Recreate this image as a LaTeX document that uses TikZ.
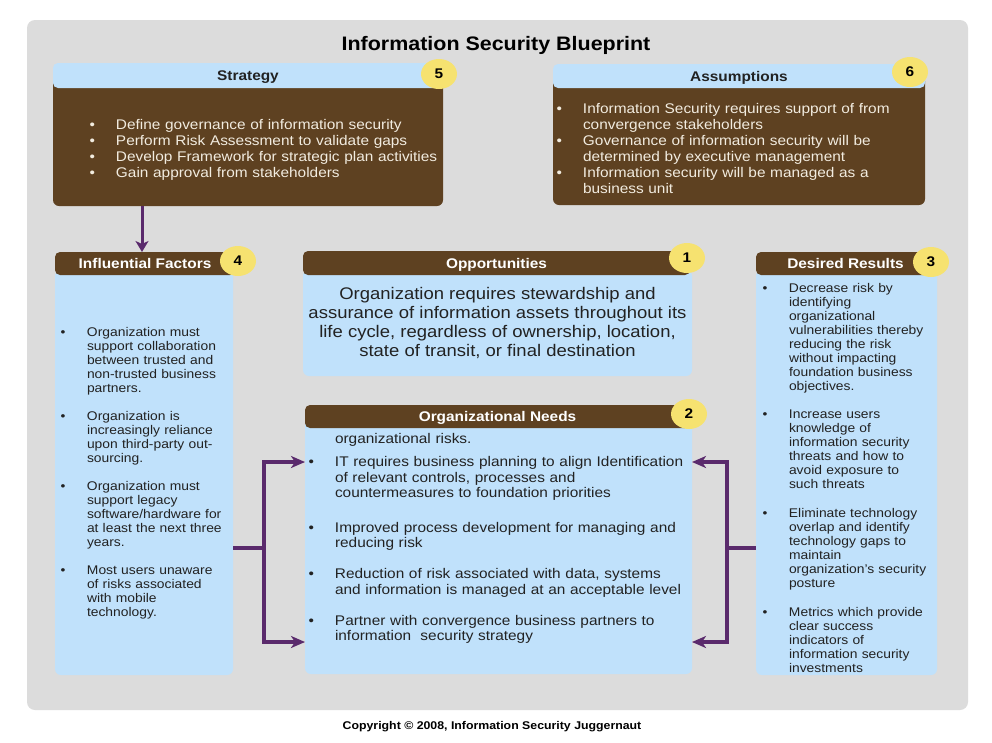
\documentclass[tikz,border=0pt]{standalone}
\usepackage{fontspec}
\setmainfont{Liberation Sans}[FakeStretch=1.1]
\usetikzlibrary{arrows.meta,positioning,calc,shapes.geometric}
\definecolor{PanelGray}{RGB}{220,220,220}
\definecolor{BoxBlue}{RGB}{192,225,251}
\definecolor{BoxBrown}{RGB}{94,65,33}
\definecolor{BadgeYellow}{RGB}{246,226,112}
\definecolor{LinkPurple}{RGB}{90,42,108}
\definecolor{InkGray}{RGB}{34,34,34}
\definecolor{Cream}{RGB}{242,236,224}
\newcommand{\bul}{\par\hangindent=26.5pt\hangafter=1\noindent\makebox[26.5pt][l]{\textbullet}}
\newcommand{\gap}[1]{\par\vspace{#1}}

\begin{document}
\begin{tikzpicture}[x=1pt,y=-1pt,>={Stealth[length=14pt,width=12pt,inset=4pt]},every node/.style={inner sep=0pt,outer sep=0pt}]
\tikzset{panel/.style={fill=PanelGray,rounded corners=8pt,anchor=north west},
hdrblue/.style={fill=BoxBlue,rounded corners=5pt,anchor=north west,text=InkGray,text height=10pt,text depth=0pt,font=\fontsize{14}{16}\selectfont\bfseries},
hdrbrown/.style={fill=BoxBrown,rounded corners=5pt,anchor=north west,text=white,text height=10pt,text depth=0pt,font=\fontsize{14}{16}\selectfont\bfseries},
bodybrown/.style={fill=BoxBrown,rounded corners=6pt,anchor=north west},
bodyblue/.style={fill=BoxBlue,rounded corners=6pt,anchor=north west},
badge/.style={ellipse,fill=BadgeYellow,minimum width=36pt,minimum height=30pt,text=black,font=\fontsize{14}{16}\selectfont\bfseries},
listtext/.style={anchor=north west,align=left,text=InkGray},
link/.style={draw=LinkPurple,line width=3.5pt}}
\useasboundingbox[fill=white] (0,0) rectangle (992,742);
\node[panel,minimum width=941pt,minimum height=690pt] (frame) at (27,20) {};
\node[font=\fontsize{19.5}{22}\selectfont\bfseries,text=black] (title) at (496,45) {Information Security Blueprint};

% top row
\node[bodybrown,minimum width=390pt,minimum height=131pt] (strat) at (53,75) {};
\node[hdrblue,minimum width=390pt,minimum height=25pt] (strathead) at (53,63) {Strategy};
\node[badge] (badge5) at (439,74) {5};
\node[listtext,text=Cream,text width=380pt,font=\fontsize{14}{16}\selectfont] (strattext) at (89.5,113) {\bul Define governance of information security
\bul Perform Risk Assessment to validate gaps
\bul Develop Framework for strategic plan activities
\bul Gain approval from stakeholders\par};

\node[bodybrown,minimum width=372pt,minimum height=130pt] (assum) at (553,75) {};
\node[hdrblue,minimum width=372pt,minimum height=24pt] (assumhead) at (553,64) {Assumptions};
\node[badge] (badge6) at (910,72) {6};
\node[listtext,text=Cream,text width=380pt,font=\fontsize{14}{16}\selectfont] (assumtext) at (556.5,97.7) {\bul Information Security requires support of from\newline convergence stakeholders
\bul Governance of information security will be\newline determined by executive management
\bul Information security will be managed as a\newline business unit\par};

% left column
\node[bodyblue,minimum width=178pt,minimum height=405pt] (infl) at (55,270) {};
\node[hdrbrown,minimum width=180pt,minimum height=23pt] (inflhead) at (55,252) {Influential Factors};
\node[badge] (badge4) at (238,261) {4};
\node[listtext,text width=220pt,font=\fontsize{12.6}{14}\selectfont] (infltext) at (60.5,322.3) {\bul Organization must\newline support collaboration\newline between trusted and\newline non-trusted business\newline partners.
\gap{14pt}\bul Organization is\newline increasingly reliance\newline upon third-party out-\newline sourcing.
\gap{14.5pt}\bul Organization must\newline support legacy\newline software/hardware for\newline at least the next three\newline years.
\gap{14pt}\bul Most users unaware\newline of risks associated\newline with mobile\newline technology.\par};

% middle column
\node[bodyblue,minimum width=389pt,minimum height=106pt] (oppo) at (303,270) {};
\node[hdrbrown,minimum width=387pt,minimum height=24pt] (oppohead) at (303,251) {Opportunities};
\node[badge] (badge1) at (687,258) {1};
\node[anchor=north,align=center,text=InkGray,font=\fontsize{16.8}{19}\selectfont] (oppotext) at (497.5,287.4) {Organization requires stewardship and\\assurance of information assets throughout its\\life cycle, regardless of ownership, location,\\state of transit, or final destination};

\node[bodyblue,minimum width=387pt,minimum height=254pt] (needs) at (305,420) {};
\node[hdrbrown,minimum width=385pt,minimum height=23pt] (needshead) at (305,405) {Organizational Needs};
\node[badge] (badge2) at (689,414) {2};
\node[listtext,text width=400pt,font=\fontsize{14}{15.5}\selectfont] (needstext) at (308.5,433.7) {\noindent\hspace*{26.5pt}organizational risks.
\gap{7.5pt}\bul IT requires business planning to align Identification\newline of relevant controls, processes and\newline countermeasures to foundation priorities
\gap{19pt}\bul Improved process development for managing and\newline reducing risk
\gap{15.5pt}\bul Reduction of risk associated with data, systems\newline and information is managed at an acceptable level
\gap{15.5pt}\bul Partner with convergence business partners to\newline information\ \ security strategy\par};

% right column
\node[bodyblue,minimum width=181pt,minimum height=405pt] (desired) at (756,270) {};
\node[hdrbrown,minimum width=179pt,minimum height=23pt] (desiredhead) at (756,252) {Desired Results};
\node[badge] (badge3) at (931,262) {3};
\node[listtext,text width=220pt,font=\fontsize{12.6}{14}\selectfont] (desiredtext) at (762.5,278.3) {\bul Decrease risk by\newline identifying\newline organizational\newline vulnerabilities thereby\newline reducing the risk\newline without impacting\newline foundation business\newline objectives.
\gap{14pt}\bul Increase users\newline knowledge of\newline information security\newline threats and how to\newline avoid exposure to\newline such threats
\gap{15pt}\bul Eliminate technology\newline overlap and identify\newline technology gaps to\newline maintain\newline organization's security\newline posture
\gap{15pt}\bul Metrics which provide\newline clear success\newline indicators of\newline information security\newline investments\par};

% connectors
\coordinate (sx) at (142,0);
\draw[link,line width=3pt,-{Stealth[length=11pt,width=13pt,inset=3pt]}] (strat.south -| sx) -- (inflhead.north -| sx);
\coordinate (ltop) at (264,462);
\coordinate (lbot) at (264,642);
\coordinate (ljoin) at (264,548);
\draw[link,<->] (needs.west |- ltop) -- (ltop) -- (lbot) -- (needs.west |- lbot);
\draw[link] (infl.east |- ljoin) -- (ljoin);
\coordinate (rtop) at (727,462);
\coordinate (rbot) at (727,642);
\coordinate (rjoin) at (727,548);
\draw[link,<->] (needs.east |- rtop) -- (rtop) -- (rbot) -- (needs.east |- rbot);
\draw[link] (desired.west |- rjoin) -- (rjoin);

\node[font=\fontsize{11.2}{13}\selectfont\bfseries,text=black] (copy) at (492,727) {Copyright © 2008, Information Security Juggernaut};
\end{tikzpicture}
\end{document}
